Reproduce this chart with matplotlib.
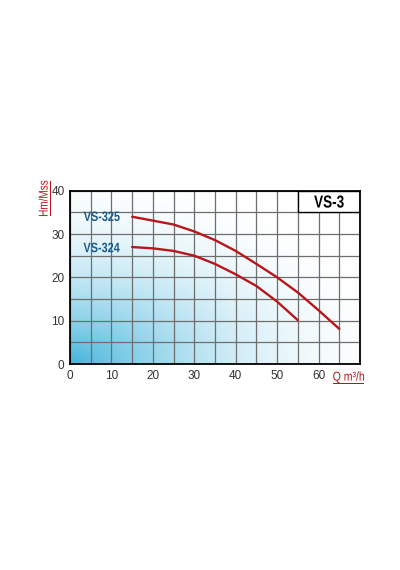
"""
Кривая насоса VS-3 (VS-325, VS-324)
"""

import numpy as np
import matplotlib.pyplot as plt
from matplotlib.font_manager import FontProperties
from matplotlib.textpath import TextPath
from matplotlib.path import Path
from matplotlib.patches import PathPatch, Rectangle
from matplotlib.transforms import Affine2D, ScaledTranslation

# Данные
q_325 = [15, 20, 25, 30, 35, 40, 45, 50, 55, 60, 65]
h_325 = [34.0, 33.1, 32.2, 30.6, 28.6, 26.1, 23.1, 20.0, 16.5, 12.4, 8.1]
q_324 = [15, 20, 25, 30, 35, 40, 45, 50, 55]
h_324 = [27.0, 26.7, 26.1, 25.0, 23.1, 20.7, 18.0, 14.4, 10.1]
x_ticks = [0, 10, 20, 30, 40, 50, 60]
y_ticks = [0, 10, 20, 30, 40]

plt.rcParams['font.family'] = ['Liberation Sans', 'DejaVu Sans']

RED = '#b8161c'
BLUE = '#1b5a8c'
DPI = 100


def narrow_text(fig, x, y, s, size, color, base, bold=False, sx=0.82,
                ha='center', va='center', rotation=0, underline=False,
                zorder=8):
    """Текст с горизонтальным сжатием (как Arial Narrow)"""
    prop = FontProperties(family='Liberation Sans',
                          weight='bold' if bold else 'normal')
    tp = TextPath((0, 0), s, size=size, prop=prop)
    ref = TextPath((0, 0), 'H', size=size, prop=prop).get_extents()
    ext = tp.get_extents()
    x0 = {'left': ext.x0, 'center': (ext.x0 + ext.x1) / 2, 'right': ext.x1}[ha]
    y0 = {'bottom': 0, 'center': ref.y1 / 2, 'top': ref.y1}[va]
    k = DPI / 72.0
    tr = (Affine2D().translate(-x0, -y0).scale(sx * k, k).rotate_deg(rotation)
          + ScaledTranslation(x, y, base))
    fig.add_artist(PathPatch(tp, facecolor=color, edgecolor='none',
                             transform=tr, zorder=zorder))
    if underline:
        uy = -0.16 * size
        ul = Path([(ext.x0, uy), (ext.x1, uy), (ext.x1, uy - 0.07 * size),
                   (ext.x0, uy - 0.07 * size), (ext.x0, uy)])
        fig.add_artist(PathPatch(ul, facecolor=color, edgecolor='none',
                                 transform=tr, zorder=zorder))


fig = plt.figure(figsize=(4, 5.7), dpi=DPI)
ax = fig.add_axes([0.175, 0.3614, 0.725, 0.304])

# Фон: градиент из левого нижнего угла
nx, ny = 300, 200
u = np.linspace(0, 1, nx)[None, :]
v = np.linspace(0, 1, ny)[:, None]
r = np.sqrt(u ** 2 + v ** 2)
w = np.clip(1 - r / 1.15, 0, 1) ** 2
blue = np.array([69, 181, 220]) / 255.0
img = 1 - w[..., None] * (1 - blue)
ax.imshow(img, extent=[0, 70, 0, 40], origin='lower', aspect='auto', zorder=0)

ax.set_xlim(0, 70)
ax.set_ylim(0, 40)
ax.set_xticks(np.arange(0, 71, 5))
ax.set_yticks(np.arange(0, 41, 5))
ax.grid(True, color='#6e6e6e', linewidth=0.9, zorder=1)
ax.set_axisbelow(False)
ax.set_xticklabels([str(t) if t in x_ticks else '' for t in np.arange(0, 71, 5)])
ax.set_yticklabels([str(t) if t in y_ticks else '' for t in np.arange(0, 41, 5)])
ax.tick_params(length=0, colors='#333333', labelsize=8.5, pad=4)
for s in ax.spines.values():
    s.set_color('black')
    s.set_linewidth(1.3)
    s.set_zorder(7)

ax.plot(q_325, h_325, color=RED, linewidth=1.7, zorder=3, solid_capstyle='round')
ax.plot(q_324, h_324, color=RED, linewidth=1.7, zorder=3, solid_capstyle='round')

narrow_text(fig, 12.0, 34.1, 'VS-325', 9.8, BLUE, ax.transData, bold=True,
            ha='right', sx=0.8)
narrow_text(fig, 12.0, 26.9, 'VS-324', 9.8, BLUE, ax.transData, bold=True,
            ha='right', sx=0.8)

# Рамка с названием серии
ax.add_patch(Rectangle((55, 35), 15, 5, facecolor='white', edgecolor='black',
                       linewidth=1.0, zorder=5))
narrow_text(fig, 62.5, 37.5, 'VS-3', 12.5, 'black', ax.transData, bold=True,
            sx=0.78)

# Подписи осей
narrow_text(fig, 0.108, 0.652, 'Hm/Mss', 9.2, RED, fig.transFigure,
            sx=0.78, rotation=90, underline=True)
narrow_text(fig, 0.833, 0.340, 'Q m³/h', 9.2, RED, fig.transFigure,
            sx=0.82, ha='left', underline=True)

fig.savefig('out.png', dpi=DPI)
